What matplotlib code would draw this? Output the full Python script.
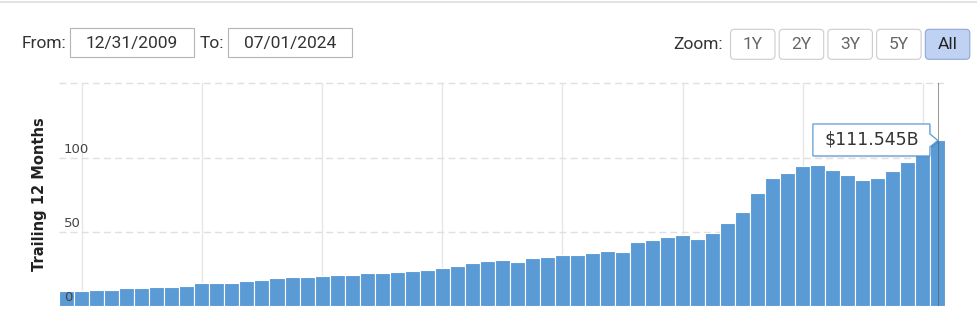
import numpy as np
import pandas as pd
import matplotlib
matplotlib.use("Agg")
import matplotlib.pyplot as plt
from matplotlib.patches import FancyBboxPatch, Polygon, Rectangle
from matplotlib.lines import Line2D
from matplotlib.transforms import IdentityTransform, ScaledTranslation

# квартальные точки (начало периода), с Q4 2009 по Q2 2024
quarters = pd.date_range("2009-10-01", "2024-04-01", freq="QS")
# выручка за последние 12 месяцев, млрд $
revenue_ttm = [10.3, 10.3, 11.2, 11.2, 12.1, 12.1, 13.0, 13.0, 13.7, 15.5,
               15.5, 15.5, 17.0, 17.9, 18.8, 19.5, 19.5, 20.4, 21.1, 21.1,
               22.2, 22.2, 23.1, 23.8, 24.6, 25.6, 27.1, 28.9, 30.5, 31.4,
               29.8, 32.3, 33.2, 34.7, 34.7, 35.6, 37.2, 36.5, 43.3, 44.8,
               46.6, 48.2, 45.5, 49.1, 55.8, 63.5, 76.0, 86.1, 89.5, 94.4,
               95.1, 91.9, 88.6, 85.2, 86.1, 91.0, 97.1, 104.0, 111.545]
y_ticks = [0, 50, 100]
y_label = "Trailing 12 Months"
date_from = "12/31/2009"
date_to = "07/01/2024"
zoom_buttons = ["1Y", "2Y", "3Y", "5Y", "All"]
active_button = "All"
tooltip_text = "$111.545B"

W, H = 978, 322
fig = plt.figure(figsize=(W / 100, H / 100), dpi=100)


def fx(px):
    return px / W


def fy(py):
    return 1 - py / H


# область графика
ax = fig.add_axes([fx(59.2), fy(306.3), fx(945.4) - fx(59.2), (306.3 - 83.3) / H])
x = np.arange(len(revenue_ttm))
ax.bar(x, revenue_ttm, width=1.0, color="#5b9bd5", edgecolor="white",
       linewidth=0.8, zorder=2)
ax.set_xlim(-0.5, len(x) - 0.5)
ax.set_ylim(0, 150)
ax.set_xticks([])
ax.set_yticks([])
for s in ax.spines.values():
    s.set_visible(False)

# сетка: вертикальные линии каждые 2 года, горизонтальные пунктирные
for i, d in enumerate(quarters):
    if d.month == 1 and d.year % 2 == 0:
        ax.axvline(i, color="#e6e6e6", lw=1, zorder=0)
for v in [50, 100, 150]:
    ax.axhline(v, color="#e0e0e0", lw=1, ls=(0, (5, 3)), zorder=0, clip_on=False)

# подписи оси y внутри графика
for v in y_ticks:
    ax.annotate(str(v), xy=(0, v), xycoords=ax.get_yaxis_transform(),
                xytext=(3.5, 1.5), textcoords="offset points",
                ha="left", va="bottom", fontsize=9.5, color="#444444", zorder=4)

fig.text(fx(40), fy(194), y_label, rotation=90, ha="center", va="center",
         fontsize=10.5, fontweight="bold", color="#222222")

# перекрестие на последнем столбце
ax.axvline(x[-1], color="#555555", alpha=0.6, lw=0.75, zorder=3)

# всплывающая подсказка
tip = IdentityTransform() + ScaledTranslation(x[-1], revenue_ttm[-1], ax.transData)
box = [(-125, 16.5), (-8, 16.5), (-8, 6.5), (0, 0), (-8, -6.5), (-8, -15.5), (-125, -15.5)]
shadow = Polygon([(px + 1.5, py - 1.5) for px, py in box], closed=True,
                 transform=tip, fc="#000000", alpha=0.08, ec="none", clip_on=False, zorder=5)
ax.add_patch(shadow)
ax.add_patch(Polygon(box, closed=True, transform=tip, fc="white", ec="#5b9bd5",
                     lw=0.9, clip_on=False, zorder=6))
ax.text(-66.5, 0.5, tooltip_text, transform=tip, ha="center", va="center",
        fontsize=12.5, color="#333333", zorder=7, clip_on=False)

# верхняя линия-разделитель
fig.add_artist(Line2D([0, 1], [fy(2.3), fy(2.3)], transform=fig.transFigure,
                      color="#dddddd", lw=1.2))

# поля выбора дат
ui = {"fontfamily": "Roboto", "fontsize": 12.5}


def px(xp, yp):
    return (xp, H - yp)


fig.text(fx(22), fy(43.5), "From:", ha="left", va="center", color="#333333", **ui)
fig.add_artist(Rectangle(px(70, 57.3), 124, 29, transform=IdentityTransform(),
                         fc="white", ec="#b5b5b5", lw=0.8))
fig.text(fx(132), fy(43.5), date_from, ha="center", va="center", color="#333333", **ui)
fig.text(fx(200), fy(43.5), "To:", ha="left", va="center", color="#333333", **ui)
fig.add_artist(Rectangle(px(228, 57.3), 124, 29, transform=IdentityTransform(),
                         fc="white", ec="#b5b5b5", lw=0.8))
fig.text(fx(290), fy(43.5), date_to, ha="center", va="center", color="#333333", **ui)

# кнопки масштаба
fig.text(fx(673), fy(44.5), "Zoom:", ha="left", va="center", color="#333333", **ui)
for k, name in enumerate(zoom_buttons):
    left = 730.5 + k * 48.7
    active = name == active_button
    fig.add_artist(FancyBboxPatch(px(left, 59.3), 44.5, 30,
                                  boxstyle="round,pad=0,rounding_size=4",
                                  transform=IdentityTransform(),
                                  fc="#bfd2f3" if active else "white",
                                  ec="#8ea8d6" if active else "#cccccc", lw=0.8))
    fig.text(fx(left + 22.3), fy(44.5), name, ha="center", va="center",
             color="#222222" if active else "#666666", **ui)

fig.savefig("out.png", dpi=100)
